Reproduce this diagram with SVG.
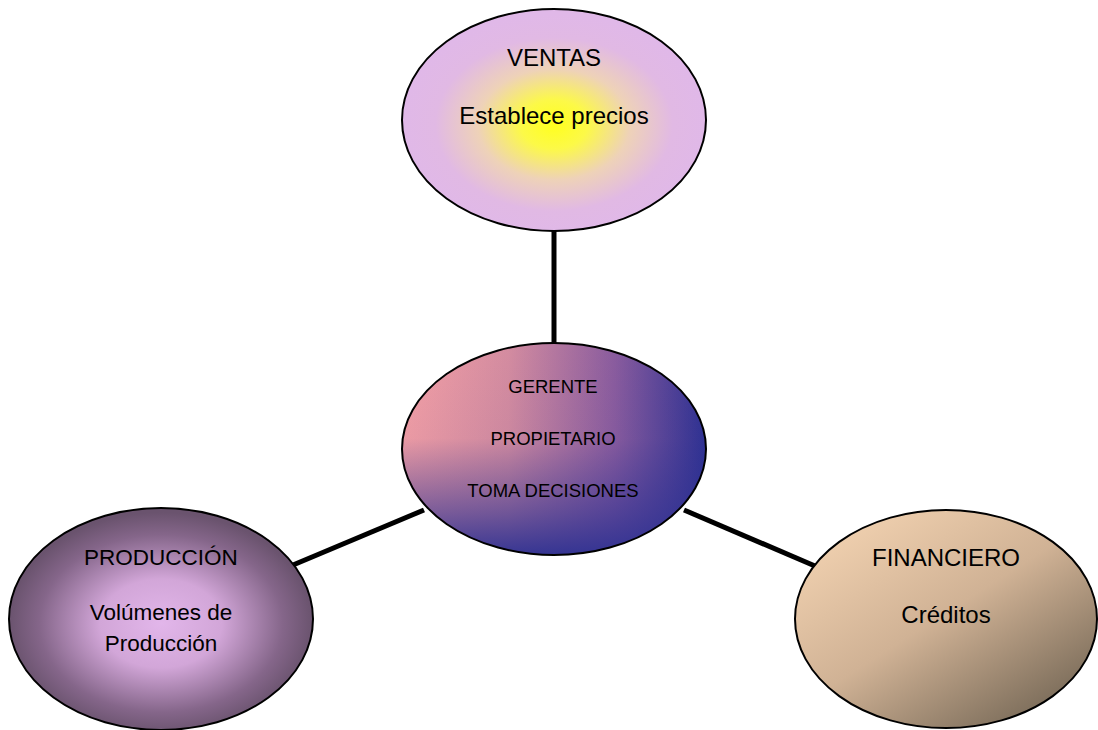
<svg xmlns="http://www.w3.org/2000/svg" width="1098" height="730" viewBox="0 0 1098 730">
<style>
.node{stroke:#000;stroke-width:2}
.t{font-family:"Liberation Sans",Arial,sans-serif;fill:#000;text-anchor:middle}
.big{font-size:24px}
.mid{font-size:22.5px}
.small{font-size:18.5px}
.conn{stroke:#000;stroke-width:5;fill:none}
</style>
<defs>
<radialGradient id="gVentas" cx="0.5" cy="0.52" r="0.5">
<stop offset="0" stop-color="#ffff1e"/>
<stop offset="0.22" stop-color="#fcf948"/>
<stop offset="0.5" stop-color="#eed2b8"/>
<stop offset="0.78" stop-color="#e1b9e4"/>
<stop offset="1" stop-color="#e0b8e8"/>
</radialGradient>
<linearGradient id="gCenterH" x1="0" y1="0" x2="1" y2="0">
<stop offset="0" stop-color="#f5a0a5"/>
<stop offset="0.35" stop-color="#d48ca0"/>
<stop offset="0.7" stop-color="#8a5c9e"/>
<stop offset="1" stop-color="#2e3192"/>
</linearGradient>
<linearGradient id="gCenterV" x1="0" y1="0" x2="0" y2="1">
<stop offset="0" stop-color="#2e3192" stop-opacity="0"/>
<stop offset="0.45" stop-color="#2e3192" stop-opacity="0.05"/>
<stop offset="0.8" stop-color="#2e3192" stop-opacity="0.6"/>
<stop offset="1" stop-color="#2e3192" stop-opacity="0.95"/>
</linearGradient>
<radialGradient id="gProd" cx="0.5" cy="0.52" r="0.5">
<stop offset="0" stop-color="#e2b6ea"/>
<stop offset="0.4" stop-color="#d2a6d8"/>
<stop offset="0.8" stop-color="#85668a"/>
<stop offset="1" stop-color="#6a536e"/>
</radialGradient>
<linearGradient id="gFin" x1="0.15" y1="0.1" x2="0.9" y2="0.95">
<stop offset="0" stop-color="#efcfae"/>
<stop offset="0.45" stop-color="#d0b295"/>
<stop offset="1" stop-color="#716453"/>
</linearGradient>
</defs>
<g id="connectors">
<line class="conn" x1="554" y1="230" x2="554" y2="345"/>
<line class="conn" x1="293" y1="565" x2="424" y2="510"/>
<line class="conn" x1="684" y1="510" x2="815" y2="566"/>
</g>
<g id="ventas">
<ellipse class="node" cx="554" cy="120" rx="152" ry="111" fill="url(#gVentas)"/>
<text class="t big" x="554" y="66">VENTAS</text>
<text class="t big" x="554" y="124">Establece precios</text>
</g>
<g id="gerente">
<ellipse cx="554" cy="449" rx="152" ry="106" fill="url(#gCenterH)"/>
<ellipse class="node" cx="554" cy="449" rx="152" ry="106" fill="url(#gCenterV)"/>
<text class="t small" x="553" y="393">GERENTE</text>
<text class="t small" x="553" y="445">PROPIETARIO</text>
<text class="t small" x="553" y="497">TOMA DECISIONES</text>
</g>
<g id="produccion">
<ellipse class="node" cx="161" cy="619" rx="152" ry="111" fill="url(#gProd)"/>
<text class="t mid" x="161" y="565">PRODUCCIÓN</text>
<text class="t mid" x="161" y="620">Volúmenes de</text>
<text class="t mid" x="161" y="651">Producción</text>
</g>
<g id="financiero">
<ellipse class="node" cx="946" cy="619" rx="151" ry="109" fill="url(#gFin)"/>
<text class="t big" x="946" y="566">FINANCIERO</text>
<text class="t big" x="946" y="623">Créditos</text>
</g>
</svg>
